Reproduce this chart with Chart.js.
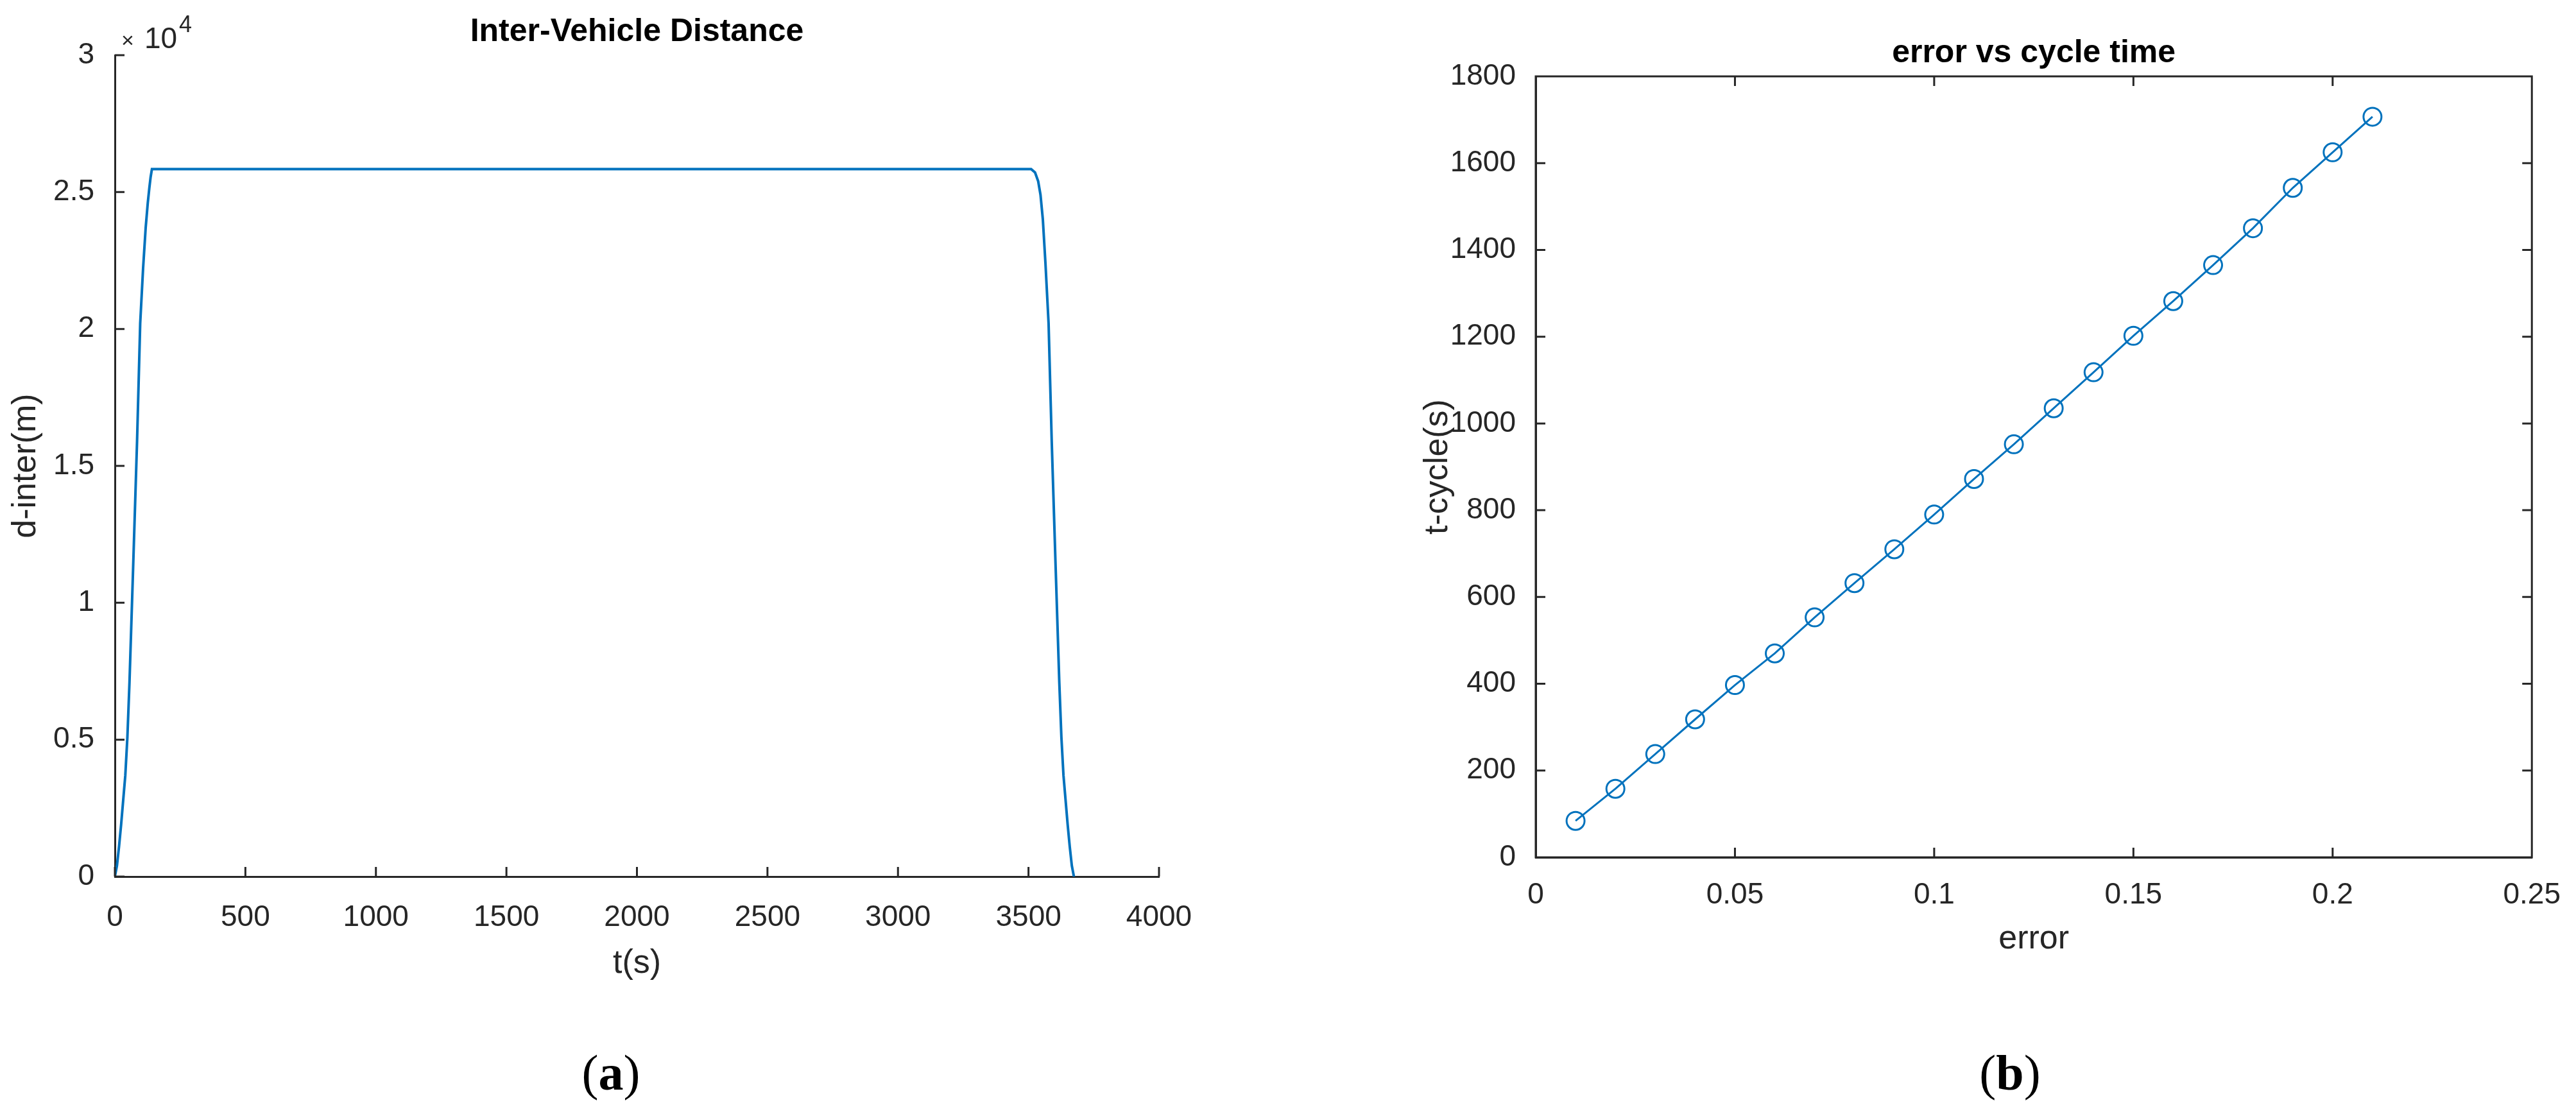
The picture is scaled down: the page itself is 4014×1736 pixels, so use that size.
<!DOCTYPE html>
<html>
<head>
<meta charset="utf-8">
<script src="https://cdn.jsdelivr.net/npm/chart.js@4.4.1/dist/chart.umd.min.js"></script>
<style>
  html, body { margin: 0; padding: 0; background: #fff; }
  body { width: 4014px; height: 1736px; position: relative; overflow: hidden; }
  .panel { position: absolute; top: 0; width: 2000px; height: 1736px; }
  #panelA { left: 0; }
  #panelB { left: 2014px; }
  .caption { position: absolute; width: 400px; top: 1622px; line-height: 100px; text-align: center;
             font-family: 'Liberation Serif', 'Times New Roman', serif; font-size: 78px; color: #000; }
</style>
</head>
<body>
<div class="panel" id="panelA"><canvas id="distChart" width="2000" height="1736"></canvas></div>
<div class="panel" id="panelB"><canvas id="cycleChart" width="2000" height="1736"></canvas></div>
<div class="caption" style="left:752px">(<b>a</b>)</div>
<div class="caption" style="left:2932px">(<b>b</b>)</div>
<script>
  /* ─── (a) Inter-Vehicle Distance ─── */
  const timeS   = [0, 8, 16, 24, 32, 40, 48, 56, 70, 85, 97, 108, 118, 126, 132, 137, 142,
                   3510, 3525, 3537, 3546, 3555, 3565, 3577, 3589, 3604, 3618, 3626, 3634, 3642, 3650, 3658, 3666, 3674];
  const dInterM = [0, 400, 1100, 1900, 2800, 3700, 5100, 7100, 11300, 15900, 20200, 22200, 23700, 24600, 25150, 25550, 25840,
                   25840, 25720, 25400, 24900, 24000, 22400, 20200, 15900, 11300, 7100, 5100, 3700, 2800, 1900, 1100, 400, 0];
  const timeTicks = [0, 500, 1000, 1500, 2000, 2500, 3000, 3500, 4000];
  const distTicks = [0, 5000, 10000, 15000, 20000, 25000, 30000];

  /* ─── (b) error vs cycle time ─── */
  const errorVals  = [0.01, 0.02, 0.03, 0.04, 0.05, 0.06, 0.07, 0.08, 0.09, 0.10, 0.11,
                      0.12, 0.13, 0.14, 0.15, 0.16, 0.17, 0.18, 0.19, 0.20, 0.21];
  const tCycleS    = [84, 158, 238, 318, 397, 470, 553, 632, 710, 790, 872,
                      952, 1035, 1118, 1202, 1282, 1365, 1450, 1543, 1625, 1707];
  const errorTicks = [0, 0.05, 0.1, 0.15, 0.2, 0.25];
  const cycleTicks = [0, 200, 400, 600, 800, 1000, 1200, 1400, 1600, 1800];

  const BLUE = '#0072bd';
  const AXIS = '#262626';
  const FONT = "'Liberation Sans', Arial, Helvetica, sans-serif";

  Chart.defaults.font.family = FONT;
  Chart.defaults.color = AXIS;

  // MATLAB style tick marks pointing into the plot, optional full box
  const inwardTicks = {
    id: 'inwardTicks',
    afterDatasetsDraw(chart, args, opts) {
      const { ctx, chartArea: a, scales } = chart;
      const len = opts.length || 15;
      ctx.save();
      ctx.strokeStyle = AXIS;
      ctx.lineWidth = 3;
      ctx.beginPath();
      scales.x.ticks.forEach(function (t) {
        const px = scales.x.getPixelForValue(t.value);
        ctx.moveTo(px, a.bottom); ctx.lineTo(px, a.bottom - len);
        if (opts.box) { ctx.moveTo(px, a.top); ctx.lineTo(px, a.top + len); }
      });
      scales.y.ticks.forEach(function (t) {
        const py = scales.y.getPixelForValue(t.value);
        ctx.moveTo(a.left, py); ctx.lineTo(a.left + len, py);
        if (opts.box) { ctx.moveTo(a.right, py); ctx.lineTo(a.right - len, py); }
      });
      if (opts.box) ctx.rect(a.left, a.top, a.right - a.left, a.bottom - a.top);
      ctx.stroke();
      ctx.restore();
    }
  };

  // "×10^4" multiplier above the y axis
  const expLabel = {
    id: 'expLabel',
    afterDraw(chart, args, opts) {
      if (!opts.text) return;
      const { ctx, chartArea: a } = chart;
      ctx.save();
      ctx.fillStyle = AXIS;
      ctx.textBaseline = 'alphabetic';
      ctx.textAlign = 'center';
      ctx.font = '34px ' + FONT;
      ctx.fillText('×', a.left + 20, a.top - 12);
      ctx.textAlign = 'left';
      ctx.font = '46px ' + FONT;
      ctx.fillText('10', a.left + 46, a.top - 11);
      ctx.font = '36px ' + FONT;
      ctx.fillText(opts.text, a.left + 100, a.top - 36);
      ctx.restore();
    }
  };

  function fixedTicks(list) {
    return function (scale) { scale.ticks = list.map(function (v) { return { value: v }; }); };
  }

  function plain(v) { return String(Number(v.toFixed(2))); }

  function axisTitle(text, pad) {
    return { display: true, text: text, color: AXIS, font: { size: 52 }, padding: pad };
  }

  /* ─── (a) ─── */
  new Chart(document.getElementById('distChart'), {
    type: 'line',
    data: {
      datasets: [{
        data: timeS.map(function (t, i) { return { x: t, y: dInterM[i] }; }),
        borderColor: BLUE,
        borderWidth: 4,
        pointRadius: 0,
        tension: 0,
        fill: false
      }]
    },
    options: {
      responsive: false,
      animation: false,
      layout: { padding: { left: 0, right: 194, top: 0, bottom: 193 } },
      plugins: {
        legend: { display: false },
        tooltip: { enabled: false },
        title: {
          display: true, text: 'Inter-Vehicle Distance', color: '#000', fullSize: false,
          font: { size: 50, weight: 'bold' }, padding: { top: 20, bottom: 6 }
        },
        inwardTicks: { length: 15, box: false },
        expLabel: { text: '4' }
      },
      scales: {
        x: {
          type: 'linear', min: 0, max: 4000,
          afterBuildTicks: fixedTicks(timeTicks),
          afterFit: function (s) { s.height = 177; },
          grid: { display: false },
          border: { display: true, color: AXIS, width: 3 },
          ticks: { font: { size: 46 }, color: AXIS, padding: 29, maxRotation: 0, autoSkip: false, callback: plain },
          title: axisTitle('t(s)', { top: 0, bottom: 10 })
        },
        y: {
          type: 'linear', min: 0, max: 30000,
          afterBuildTicks: fixedTicks(distTicks),
          afterFit: function (s) { s.width = 179; },
          grid: { display: false },
          border: { display: true, color: AXIS, width: 3 },
          ticks: {
            font: { size: 46 }, color: AXIS, padding: 24, autoSkip: false,
            callback: function (v) { return plain(v / 10000); }
          },
          title: axisTitle('d-inter(m)', { top: 9, bottom: 0 })
        }
      }
    },
    plugins: [inwardTicks, expLabel]
  });

  /* ─── (b) ─── */
  new Chart(document.getElementById('cycleChart'), {
    type: 'line',
    data: {
      datasets: [{
        data: errorVals.map(function (e, i) { return { x: e, y: tCycleS[i] }; }),
        borderColor: BLUE,
        borderWidth: 3,
        pointStyle: 'circle',
        pointRadius: 14,
        pointBorderWidth: 3,
        pointBorderColor: BLUE,
        pointBackgroundColor: 'rgba(0,0,0,0)',
        tension: 0,
        fill: false
      }]
    },
    options: {
      responsive: false,
      animation: false,
      layout: { padding: { left: 0, right: 62, top: 0, bottom: 231 } },
      plugins: {
        legend: { display: false },
        tooltip: { enabled: false },
        title: {
          display: true, text: 'error vs cycle time', color: '#000', fullSize: false,
          font: { size: 50, weight: 'bold' }, padding: { top: 53, bottom: 6 }
        },
        inwardTicks: { length: 15, box: true }
      },
      scales: {
        x: {
          type: 'linear', min: 0, max: 0.25,
          afterBuildTicks: fixedTicks(errorTicks),
          afterFit: function (s) { s.height = 169; },
          grid: { display: false },
          border: { display: true, color: AXIS, width: 3 },
          ticks: { font: { size: 46 }, color: AXIS, padding: 24, maxRotation: 0, autoSkip: false, callback: plain },
          title: axisTitle('error', { top: 0, bottom: 10 })
        },
        y: {
          type: 'linear', min: 0, max: 1800,
          afterBuildTicks: fixedTicks(cycleTicks),
          afterFit: function (s) { s.width = 379; },
          grid: { display: false },
          border: { display: true, color: AXIS, width: 3 },
          ticks: { font: { size: 46 }, color: AXIS, padding: 23, autoSkip: false, callback: plain },
          title: axisTitle('t-cycle(s)', { top: 195, bottom: 0 })
        }
      }
    },
    plugins: [inwardTicks]
  });
</script>
</body>
</html>
